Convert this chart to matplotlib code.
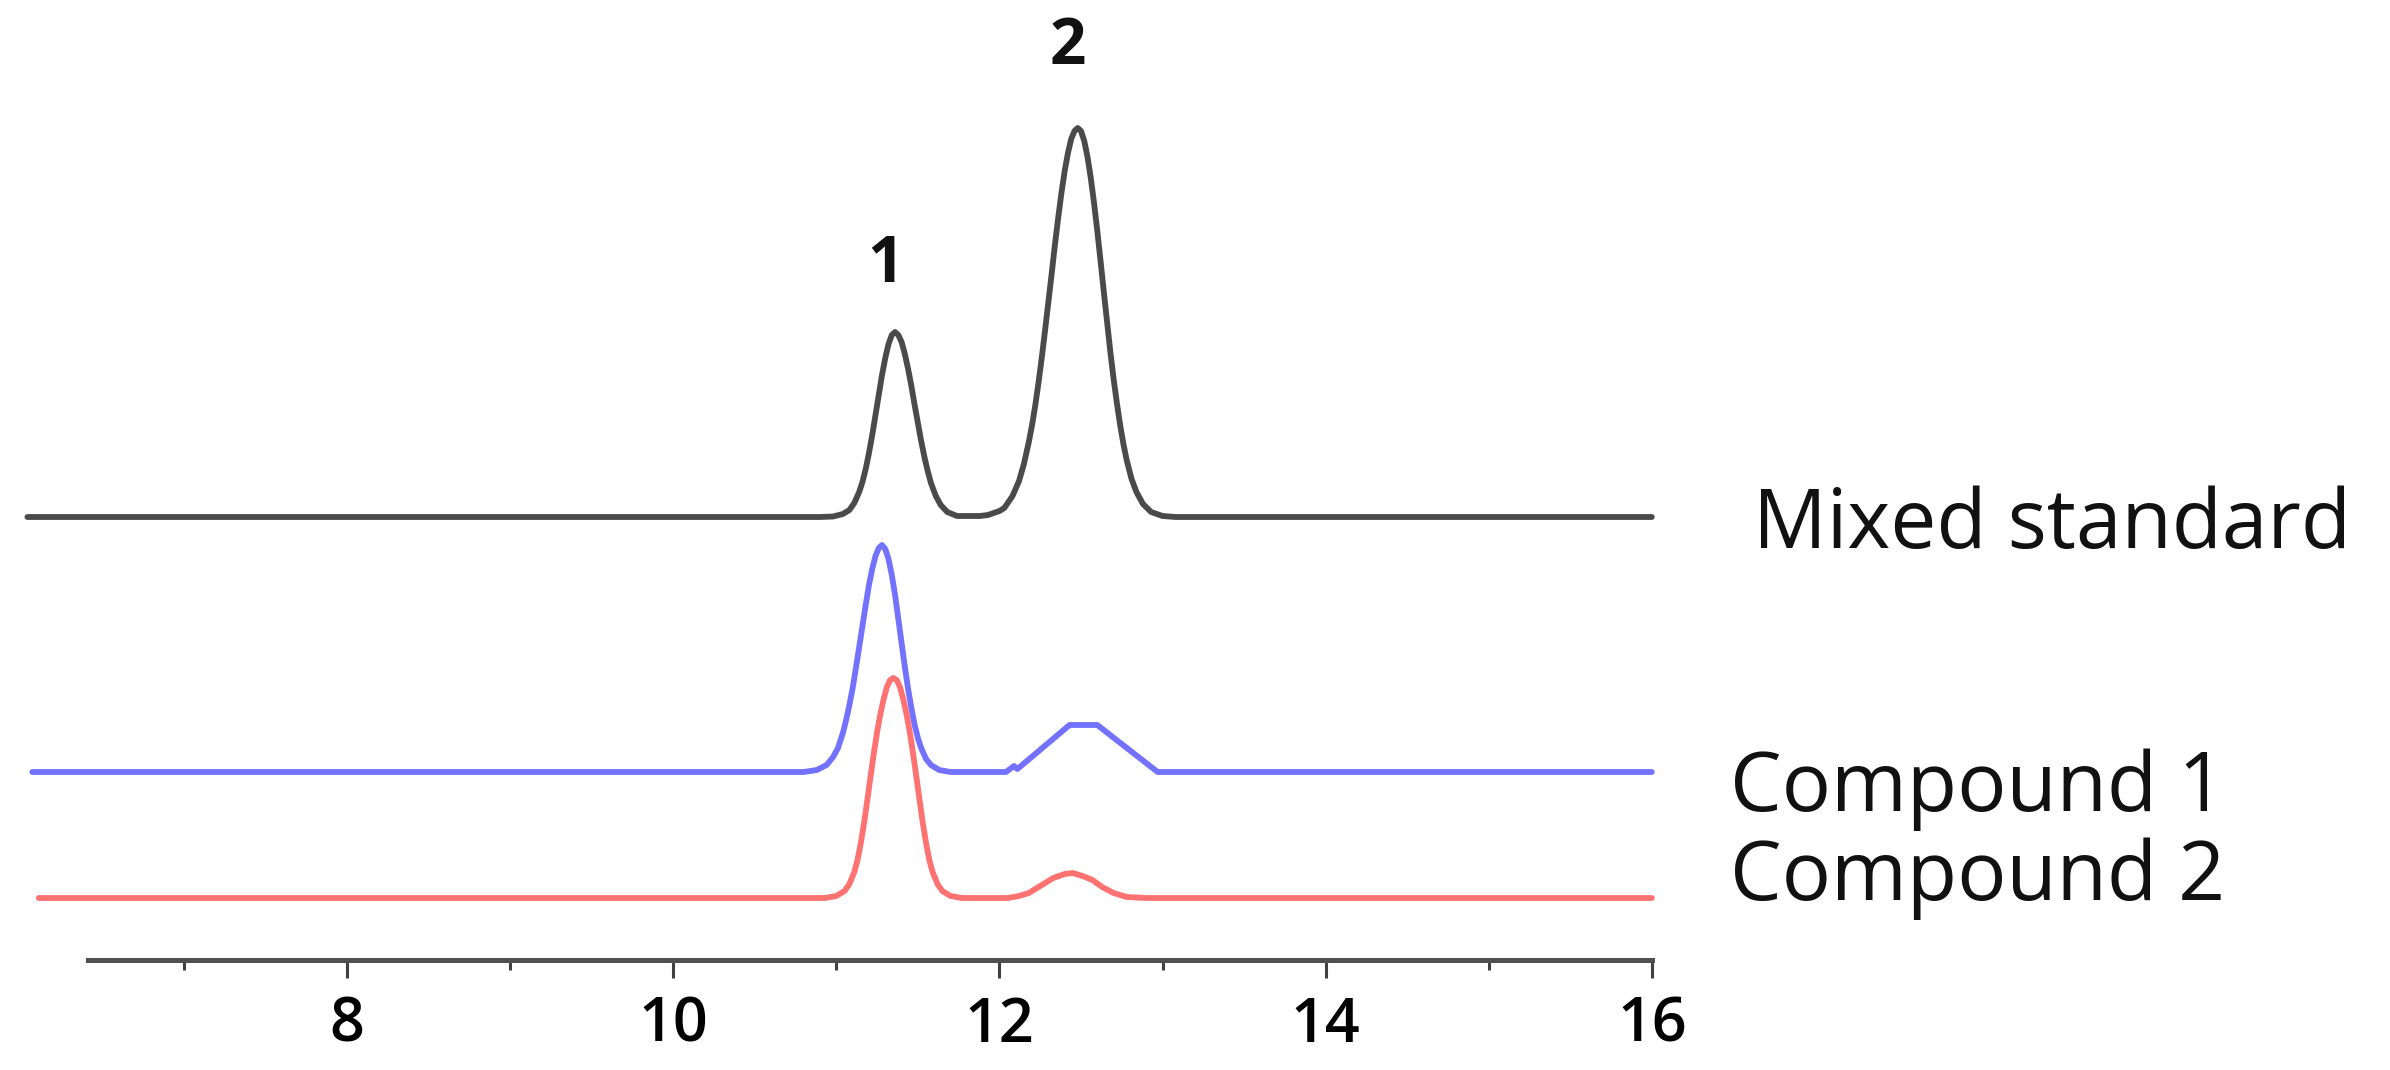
import matplotlib.pyplot as plt
from matplotlib.ticker import FixedLocator

# retention time (min) and signal height above each trace's own baseline
mix_x = [6.04, 10.90, 10.98, 11.04, 11.08, 11.11, 11.14, 11.16, 11.18, 11.20,
         11.22, 11.24, 11.26, 11.28, 11.30, 11.32, 11.34, 11.36, 11.38, 11.40,
         11.42, 11.44, 11.46, 11.48, 11.50, 11.52, 11.54, 11.56, 11.58, 11.61,
         11.64, 11.68, 11.74, 11.80, 11.88, 11.93, 12.00, 12.03, 12.08, 12.12,
         12.15, 12.18, 12.20, 12.22, 12.24, 12.26, 12.28, 12.30, 12.32, 12.34,
         12.36, 12.38, 12.40, 12.42, 12.44, 12.46, 12.48, 12.50, 12.52, 12.54,
         12.56, 12.58, 12.60, 12.62, 12.64, 12.66, 12.68, 12.70, 12.72, 12.74,
         12.76, 12.78, 12.81, 12.84, 12.88, 12.93, 13.00, 13.08, 16.00]
mix_y = [0, 0, 0.5, 3, 7, 14, 25, 35, 48, 64,
         82, 102, 122, 142, 159, 173, 182, 185, 182, 175,
         163, 148, 131, 112, 94, 76, 60, 46, 34, 21,
         12, 5, 1, 1, 1, 2, 6, 9, 21, 36,
         53, 75, 92, 112, 135, 160, 187, 215, 243, 272,
         299, 324, 346, 364, 378, 386, 389, 386, 376, 360,
         339, 314, 286, 256, 225, 195, 165, 138, 114, 92,
         73, 57, 38, 25, 13, 5, 1, 0, 0]

c1_x = [6.07, 10.80, 10.88, 10.94, 10.98, 11.01, 11.04, 11.06, 11.08, 11.10,
        11.12, 11.14, 11.16, 11.18, 11.20, 11.22, 11.24, 11.26, 11.28, 11.30,
        11.32, 11.34, 11.36, 11.38, 11.40, 11.42, 11.44, 11.46, 11.48, 11.50,
        11.52, 11.55, 11.58, 11.63, 11.70, 12.04, 12.09, 12.11, 12.43, 12.60,
        12.97, 16.00]
c1_y = [0, 0, 2, 7, 15, 24, 39, 52, 67, 84,
        104, 125, 146, 167, 187, 203, 216, 224, 227, 223,
        213, 197, 177, 153, 129, 105, 83, 64, 47, 34,
        24, 13, 7, 2, 0, 0, 6, 3, 47, 47,
        0, 0]

c2_x = [6.11, 10.93, 11.00, 11.05, 11.08, 11.11, 11.13, 11.15, 11.17, 11.19,
        11.21, 11.23, 11.25, 11.27, 11.29, 11.31, 11.33, 11.35, 11.37, 11.39,
        11.41, 11.43, 11.45, 11.47, 11.49, 11.51, 11.53, 11.55, 11.57, 11.59,
        11.62, 11.65, 11.70, 11.77, 12.05, 12.12, 12.18, 12.25, 12.33, 12.40,
        12.45, 12.51, 12.57, 12.63, 12.70, 12.78, 12.90, 16.00]
c2_y = [0, 0, 2, 7, 14, 26, 38, 55, 75, 98,
        122, 145, 166, 184, 199, 211, 218, 220, 218, 211,
        199, 184, 166, 145, 122, 98, 75, 55, 38, 26,
        14, 7, 2, 0, 0, 2, 5, 12, 20, 24,
        25, 22, 18, 11, 5, 1, 0, 0]

names = ["Mixed standard", "Compound 1", "Compound 2"]
offsets = [553, 298, 172]
colors = ["#4a4a4a", "#7272ff", "#ff7272"]

peak_labels = ["1", "2"]
peak_label_x = [11.30, 12.42]
peak_label_y = [804, 1022]

major_ticks = [8, 10, 12, 14, 16]
minor_ticks = [7, 9, 11, 13, 15]

fig = plt.figure(figsize=(23.9, 10.7), dpi=100)
ax = fig.add_axes([0, 0, 1, 1])
ax.set_xlim(5.872, 20.526)
ax.set_ylim(0, 1070)

traces = [(mix_x, mix_y), (c1_x, c1_y), (c2_x, c2_y)]
for (xs, ys), off, col in zip(traces, offsets, colors):
    ax.plot(xs, [v + off for v in ys], color=col, lw=4.2,
            solid_capstyle='round', solid_joinstyle='round')

# trace names on the right
name_x = [16.62, 16.48, 16.48]
name_y = [543, 280, 191]
for name, nx, ny in zip(names, name_x, name_y):
    ax.text(nx, ny, name, fontsize=59, family='Open Sans', ha='left', va='center',
            color='#111111')

for lab, lx, ly in zip(peak_labels, peak_label_x, peak_label_y):
    ax.text(lx, ly, lab, fontsize=46, family='Open Sans', weight='bold',
            ha='center', va='center', color='#111111')

# only the bottom axis is shown
for s in ['top', 'left', 'right']:
    ax.spines[s].set_visible(False)
ax.spines['bottom'].set_position(('data', 110))
ax.spines['bottom'].set_bounds(6.41, 16)
ax.spines['bottom'].set_linewidth(3.6)
ax.spines['bottom'].set_color('#505050')
ax.xaxis.set_major_locator(FixedLocator(major_ticks))
ax.xaxis.set_minor_locator(FixedLocator(minor_ticks))
ax.tick_params(axis='x', which='major', direction='out', length=13, width=2.2,
               color='#404040', pad=12, labelsize=44)
ax.tick_params(axis='x', which='minor', direction='out', length=7, width=2.2,
               color='#404040')
for t in ax.get_xticklabels():
    t.set_fontfamily('Open Sans')
    t.set_fontweight('semibold')
ax.set_yticks([])

fig.savefig('out.png', dpi=100)
